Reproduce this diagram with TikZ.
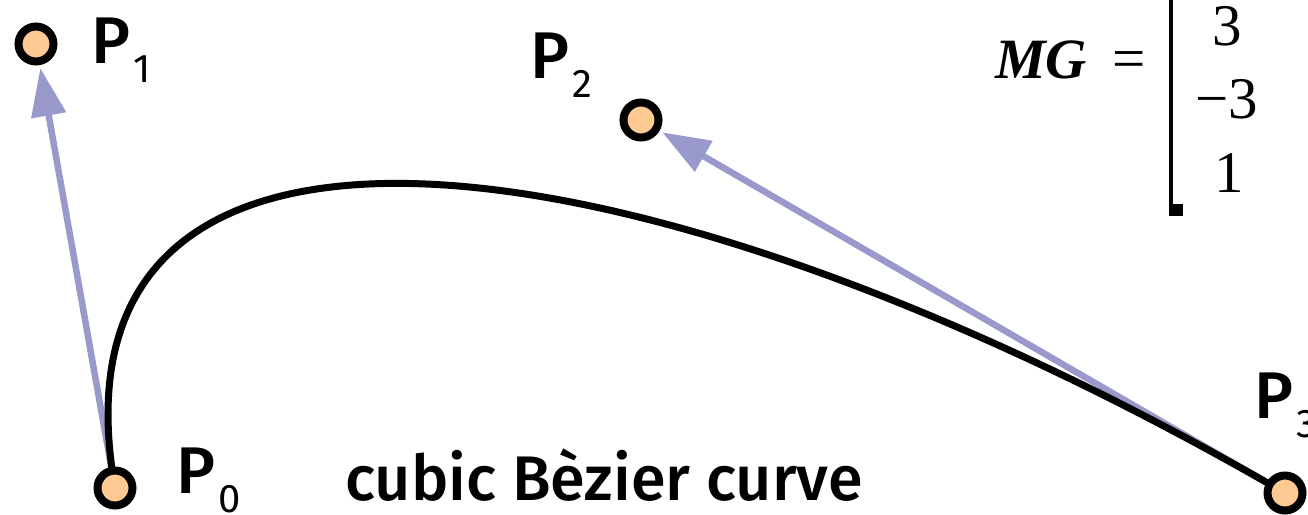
\documentclass[tikz,border=0pt]{standalone}
\usepackage{fontspec}
\setmainfont{Fira Sans}
\newfontfamily\medfont{Fira Sans}[UprightFont={* Medium}]
\newfontfamily\matrixserif{Liberation Serif}
\usetikzlibrary{arrows.meta}
\definecolor{peach}{RGB}{255,201,148}
\definecolor{tanblue}{RGB}{153,153,204}
\pgfdeclarelayer{fg}
\pgfsetlayers{main,fg}
\newcommand\ptsub[1]{\kern3pt\raisebox{-0.3em}{\normalfont\fontsize{40}{40}\selectfont #1}}
\begin{document}
\begin{tikzpicture}[x=1pt,y=-1pt,
  ctrl/.style={circle,draw=black,fill=peach,line width=8pt,minimum size=35pt,inner sep=0pt},
  lbl/.style={font=\medfont\fontsize{66}{70}\selectfont,anchor=base west,inner sep=0pt},
  tanvec/.style={draw=tanblue,line width=6.5pt,shorten >=3pt,-{Triangle[length=48pt,width=34pt]}},
  curveline/.style={line width=7pt},
  mathtxt/.style={font=\matrixserif\fontsize{59}{60}\selectfont,inner sep=0pt}]
\useasboundingbox (0,0) rectangle (1308,514);
\begin{pgfonlayer}{fg}
\node[ctrl] (p0) at (115,488) {};
\node[ctrl] (p1) at (36,44) {};
\node[ctrl] (p2) at (641,120) {};
\node[ctrl] (p3) at (1285,493) {};
\end{pgfonlayer}
\draw[tanvec] (p0.center) -- (p1);
\draw[tanvec] (p3.center) -- (p2);
\draw[curveline] (p0.center) .. controls (p1.center) and (p2.center) .. (p3.center);
\node[lbl] (l1) at (91,63) {P\ptsub{1}};
\node[lbl] (l2) at (530,78) {P\ptsub{2}};
\node[lbl] (l0) at (176,493) {P\ptsub{0}};
\node[lbl] (l3) at (1254,418) {P\ptsub{3}};
\node[lbl,font=\medfont\fontsize{63}{66}\selectfont] (cap) at (345,500) {cubic Bèzier curve};
\node[mathtxt,font=\matrixserif\fontsize{57}{60}\selectfont\bfseries\itshape,anchor=base west] (mg) at (995,78) {MG};
\node[mathtxt,anchor=base west] (eq) at (1112,78) {=};
\node[mathtxt,anchor=base] (m1) at (1227,45) {3};
\node[mathtxt,anchor=base] (m2) at (1227,118) {−3};
\node[mathtxt,anchor=base] (m3) at (1229,192) {1};
\draw[line width=4.5pt] (1171,-5) -- (1171,214);
\fill (1168.75,204) rectangle (1183,216);
\end{tikzpicture}
\end{document}
